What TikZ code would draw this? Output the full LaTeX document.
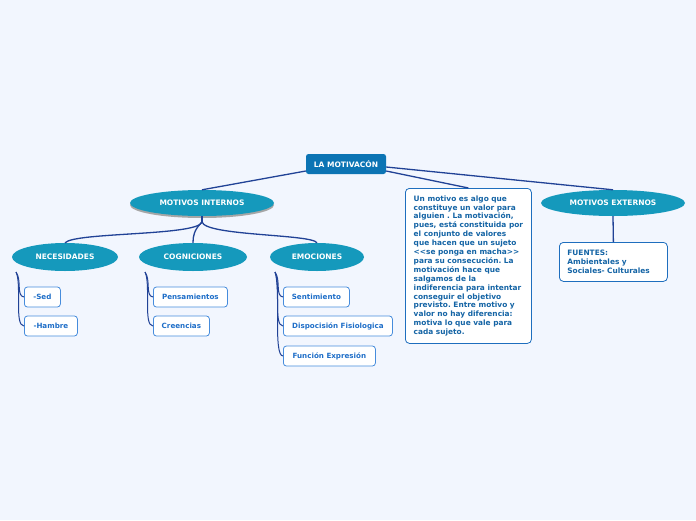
\documentclass[tikz,border=0pt]{standalone}
\usepackage{fontspec}
\setmainfont{DejaVu Sans}
\frenchspacing
\usetikzlibrary{shapes.geometric}
\definecolor{bgc}{RGB}{242,246,254}
\definecolor{rootc}{RGB}{12,116,180}
\definecolor{ellc}{RGB}{21,153,188}
\definecolor{linec}{RGB}{33,66,150}
\definecolor{subborder}{RGB}{70,140,220}
\definecolor{subtext}{RGB}{30,110,200}
\definecolor{tbborder}{RGB}{30,110,190}
\definecolor{tbtext}{RGB}{20,100,165}
\tikzset{
  lbl/.style={font=\fontsize{7.5}{8.9}\selectfont\bfseries},
  sublbl/.style={font=\fontsize{7.15}{8.9}\selectfont\bfseries},
  tblbl/.style={font=\fontsize{7.4}{8.9}\selectfont\bfseries},
  rootbox/.style={lbl,draw=none,fill=rootc,text=white,rounded corners=2.5pt,minimum width=80pt,minimum height=20pt,inner sep=0pt},
  ell/.style={lbl,ellipse,fill=ellc,text=white,inner sep=0pt,minimum height=26pt},
  shadowell/.style={ellipse,fill=black!35,inner sep=0pt,minimum height=26pt},
  subbox/.style={sublbl,draw=subborder,line width=0.8pt,fill=white,text=subtext,rounded corners=3pt,minimum height=20pt,inner sep=0pt,anchor=west},
  textbox/.style={tblbl,draw=tbborder,line width=0.8pt,fill=white,text=tbtext,rounded corners=4pt,align=left,inner sep=0pt},
  conn/.style={draw=linec,line width=1.3pt},
  thin/.style={draw=linec,line width=1pt},
}
\begin{document}
\begin{tikzpicture}[x=1pt,y=-1pt]
\fill[bgc] (0,0) rectangle (696,520);
\useasboundingbox (0,0) rectangle (696,520);

% main nodes
\node[rootbox] (root) at (346,164) {LA MOTIVAC\'ON};
\node[shadowell,minimum width=144pt] (intsh) at (202,205) {};
\node[ell,minimum width=144pt] (int) at (202,203) {MOTIVOS INTERNOS};
\node[ell,minimum width=144pt] (ext) at (613,203) {MOTIVOS EXTERNOS};

\node[ell,minimum width=106pt,minimum height=28pt] (nec) at (65,257) {NECESIDADES};
\node[ell,minimum width=108pt,minimum height=28pt] (cog) at (193,257) {COGNICIONES};
\node[ell,minimum width=94pt,minimum height=28pt] (emo) at (317,257) {EMOCIONES};

% sub boxes
\node[subbox,minimum width=36pt] (sed) at (24,297) {-Sed};
\node[subbox,minimum width=53pt] (ham) at (24,326) {-Hambre};
\node[subbox,minimum width=74pt] (pen) at (153,297) {Pensamientos};
\node[subbox,minimum width=56pt] (cre) at (153,326) {Creencias};
\node[subbox,minimum width=66pt] (sen) at (283,297) {Sentimiento};
\node[subbox,minimum width=109pt] (dis) at (283,326) {Dispocisi\'on Fisiologica};
\node[subbox,minimum width=92pt] (fun) at (283,356) {Funci\'on Expresi\'on};

% text boxes
\node[textbox,anchor=north west,minimum width=126pt,minimum height=155pt] (def) at (405,188) {%
Un motivo es algo que\\
constituye un valor para\\
alguien . La motivaci\'on,\\
pues, est\'a constituida por\\
el conjunto de valores\\
que hacen que un sujeto\\
{<}{<}se ponga en macha{>}{>}\\
para su consecuci\'on. La\\
motivaci\'on hace que\\
salgamos de la\\
indiferencia para intentar\\
conseguir el objetivo\\
previsto. Entre motivo y\\
valor no hay diferencia:\\
motiva lo que vale para\\
cada sujeto.};
\node[textbox,anchor=north west,minimum width=108pt,minimum height=39pt,text width=92pt] (fue) at (559,242) {%
FUENTES:\\
Ambientales y\\
Sociales- Culturales};

% connectors from root
\draw[conn] (root.west|-0,171) -- (int.north);
\draw[conn] (root.east|-0,167) -- (ext.north);
\draw[conn] (root.east|-0,171) -- (def.north);
\draw[conn] (ext.south) -- (fue.north);

% from motivos internos to children
\coordinate (ib) at (202,222);
\draw[conn] (int.south) -- (ib);
\draw[conn] (ib) .. controls (198,236) and (75,232) .. (nec.north);
\draw[conn] (ib) .. controls (194,230) and (193,236) .. (cog.north);
\draw[conn] (ib) .. controls (206,236) and (312,234) .. (emo.north);

% child connectors
\coordinate (ns) at (16,272);
\draw[thin] (ns) .. controls (22,280) and (16,296) .. (sed.west);
\draw[thin] (ns) .. controls (22,284) and (14,326) .. (ham.west);
\coordinate (cs) at (145,272);
\draw[thin] (cs) .. controls (151,280) and (145,296) .. (pen.west);
\draw[thin] (cs) .. controls (151,284) and (143,326) .. (cre.west);
\coordinate (es) at (275,272);
\draw[thin] (es) .. controls (281,280) and (275,296) .. (sen.west);
\draw[thin] (es) .. controls (281,284) and (273,326) .. (dis.west);
\draw[thin] (es) .. controls (281,290) and (273,356) .. (fun.west);
\end{tikzpicture}
\end{document}
